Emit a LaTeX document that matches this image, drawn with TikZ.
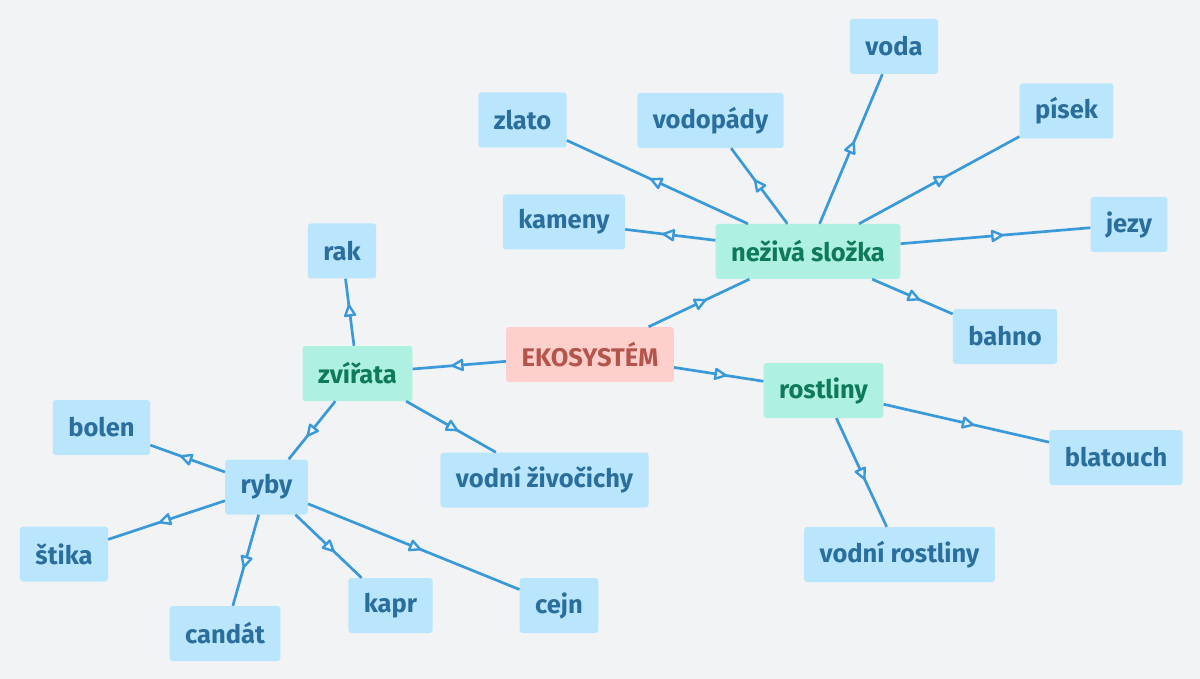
\documentclass[tikz,border=0pt]{standalone}
\usepackage{fontspec}
\setmainfont{Fira Sans}
\usetikzlibrary{shapes.geometric}
\definecolor{bg}{HTML}{F2F3F5}
\definecolor{bluefill}{HTML}{BAE6FD}
\definecolor{bluetext}{HTML}{2A6E9E}
\definecolor{greenfill}{HTML}{AEF0E1}
\definecolor{greentext}{HTML}{0E7A5A}
\definecolor{pinkfill}{HTML}{FFD0CB}
\definecolor{pinktext}{HTML}{B5544A}
\definecolor{linec}{HTML}{3A9AD9}
\tikzset{
  box/.style={rectangle, rounded corners=3pt, minimum height=55pt, inner xsep=15.5pt,
    font=\fontsize{25.5}{29}\selectfont\bfseries},
  leaf/.style={box, fill=bluefill, text=bluetext},
  mid/.style={box, fill=greenfill, text=greentext},
  root/.style={box, fill=pinkfill, text=pinktext},
  conn/.style={draw=linec, line width=2.7pt},
  tri/.style={isosceles triangle, isosceles triangle stretches, sloped, allow upside down,
    minimum width=10pt, minimum height=10pt, inner sep=0pt, outer sep=0pt,
    draw=linec, fill=bg, line width=2.4pt, line join=round}
}
\begin{document}
\begin{tikzpicture}[x=1pt,y=-1pt]
\fill[bg] (0,0) rectangle (1200,679);
\useasboundingbox (0,0) rectangle (1200,679);
\node[root] (eko) at (590,354.5) {EKOSYSTÉM};
\node[mid] (nez) at (808,251.5) {neživá složka};
\node[mid] (zvi) at (357.5,373.5) {zvířata};
\node[mid] (ros) at (823.5,390.5) {rostliny};
\node[leaf] (voda) at (894,46.5) {voda};
\node[leaf] (zlato) at (522.5,120) {zlato};
\node[leaf] (vodop) at (710.5,120.5) {vodopády};
\node[leaf] (pisek) at (1066.5,111) {písek};
\node[leaf] (kameny) at (564,222) {kameny};
\node[leaf] (jezy) at (1129,224.5) {jezy};
\node[leaf] (rak) at (342,251) {rak};
\node[leaf] (bahno) at (1005,336.5) {bahno};
\node[leaf] (bolen) at (101.5,427.5) {bolen};
\node[leaf] (blat) at (1116,457.5) {blatouch};
\node[leaf] (ryby) at (266.5,487) {ryby};
\node[leaf] (vziv) at (544.5,480) {vodní živočichy};
\node[leaf] (stika) at (64,554) {štika};
\node[leaf] (vros) at (899.5,554.5) {vodní rostliny};
\node[leaf] (kapr) at (390.5,605.5) {kapr};
\node[leaf] (cejn) at (559,605.5) {cejn};
\node[leaf] (candat) at (225,633.5) {candát};
\draw[conn] (eko) -- node[tri]{} (nez);
\draw[conn] (eko) -- node[tri]{} (zvi);
\draw[conn] (eko) -- node[tri]{} (ros);
\draw[conn] (nez) -- node[tri]{} (zlato);
\draw[conn] (nez) -- node[tri]{} (vodop);
\draw[conn] (nez) -- node[tri]{} (voda);
\draw[conn] (nez) -- node[tri]{} (pisek);
\draw[conn] (nez) -- node[tri]{} (kameny);
\draw[conn] (nez) -- node[tri]{} (jezy);
\draw[conn] (nez) -- node[tri]{} (bahno);
\draw[conn] (zvi) -- node[tri]{} (rak);
\draw[conn] (zvi) -- node[tri]{} (ryby);
\draw[conn] (zvi) -- node[tri]{} (vziv);
\draw[conn] (ros) -- node[tri]{} (blat);
\draw[conn] (ros) -- node[tri]{} (vros);
\draw[conn] (ryby) -- node[tri]{} (bolen);
\draw[conn] (ryby) -- node[tri]{} (stika);
\draw[conn] (ryby) -- node[tri]{} (candat);
\draw[conn] (ryby) -- node[tri]{} (kapr);
\draw[conn] (ryby) -- node[tri]{} (cejn);
\end{tikzpicture}
\end{document}
